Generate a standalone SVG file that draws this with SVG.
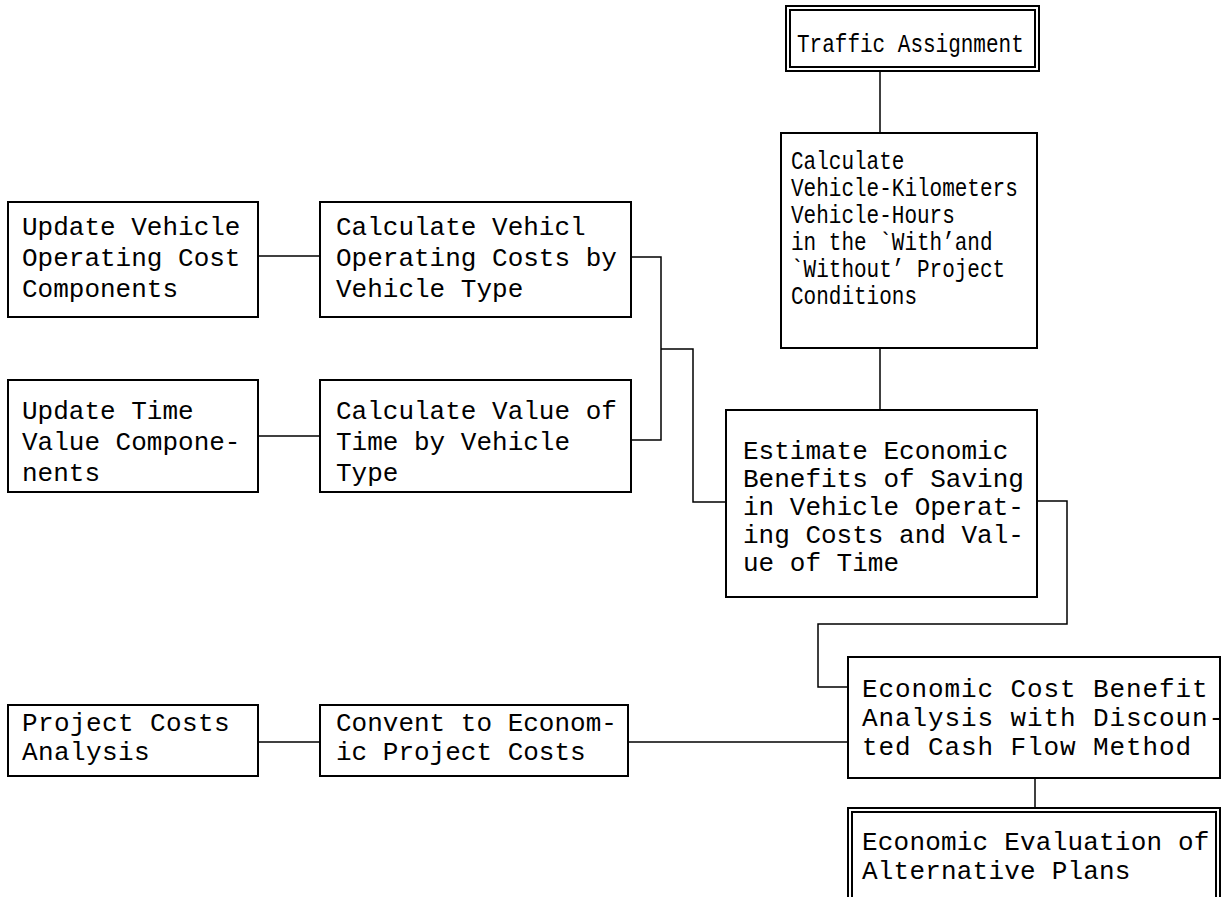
<svg xmlns="http://www.w3.org/2000/svg" width="1223" height="897" viewBox="0 0 1223 897">
<style>
.box{fill:#fff;stroke:#000;stroke-width:2}
.t{font-family:"Liberation Mono","DejaVu Sans Mono",monospace;font-size:26px;fill:#000;letter-spacing:0px}
.s{font-size:21px;letter-spacing:0px}
.c{fill:none;stroke:#000;stroke-width:1.5}
</style>
<rect width="1223" height="897" fill="#fff"/>
<g id="connectors">
<path class="c" d="M880 71V133"/>
<path class="c" d="M880 348V410"/>
<path class="c" d="M258 256H320"/>
<path class="c" d="M258 436H320"/>
<path class="c" d="M631 257H661V440H631"/>
<path class="c" d="M661 349H693V502H726"/>
<path class="c" d="M1037 501H1067V624H818V687H848"/>
<path class="c" d="M258 742H320"/>
<path class="c" d="M628 742H848"/>
<path class="c" d="M1035 778V808"/>
</g>
<g id="traffic">
<rect class="box" x="786" y="6" width="253" height="65"/>
<rect class="box" x="790" y="10" width="245" height="57" stroke-width="1.2"/>
<text class="t s" transform="translate(797,52) scale(1,1.2)" x="0" y="0">Traffic Assignment</text>
</g>
<g id="vkm">
<rect class="box" x="781" y="133" width="256" height="215"/>
<text class="t s" transform="translate(791,169) scale(1,1.2)" x="0" y="0"><tspan x="0">Calculate</tspan><tspan x="0" dy="22.5">Vehicle-Kilometers</tspan><tspan x="0" dy="22.5">Vehicle-Hours</tspan><tspan x="0" dy="22.5">in the `With’and</tspan><tspan x="0" dy="22.5">`Without’ Project</tspan><tspan x="0" dy="22.5">Conditions</tspan></text>
</g>
<g id="estimate">
<rect class="box" x="726" y="410" width="311" height="187"/>
<text class="t" x="743" y="459"><tspan x="743">Estimate Economic</tspan><tspan x="743" dy="28">Benefits of Saving</tspan><tspan x="743" dy="28">in Vehicle Operat-</tspan><tspan x="743" dy="28">ing Costs and Val-</tspan><tspan x="743" dy="28">ue of Time</tspan></text>
</g>
<g id="update-voc">
<rect class="box" x="8" y="202" width="250" height="115"/>
<text class="t" x="22" y="235"><tspan x="22">Update Vehicle</tspan><tspan x="22" dy="31">Operating Cost</tspan><tspan x="22" dy="31">Components</tspan></text>
</g>
<g id="calc-voc">
<rect class="box" x="320" y="202" width="311" height="115"/>
<text class="t" x="336" y="235"><tspan x="336">Calculate Vehicl</tspan><tspan x="336" dy="31">Operating Costs by</tspan><tspan x="336" dy="31">Vehicle Type</tspan></text>
</g>
<g id="update-time">
<rect class="box" x="8" y="380" width="250" height="112"/>
<text class="t" x="22" y="419"><tspan x="22">Update Time</tspan><tspan x="22" dy="31">Value Compone-</tspan><tspan x="22" dy="31">nents</tspan></text>
</g>
<g id="calc-time">
<rect class="box" x="320" y="380" width="311" height="112"/>
<text class="t" x="336" y="419"><tspan x="336">Calculate Value of</tspan><tspan x="336" dy="31">Time by Vehicle</tspan><tspan x="336" dy="31">Type</tspan></text>
</g>
<g id="project-costs">
<rect class="box" x="8" y="705" width="250" height="71"/>
<text class="t" x="22" y="731" style="letter-spacing:0.4px"><tspan x="22">Project Costs</tspan><tspan x="22" dy="29">Analysis</tspan></text>
</g>
<g id="convent">
<rect class="box" x="320" y="705" width="308" height="71"/>
<text class="t" x="336" y="731"><tspan x="336">Convent to Econom-</tspan><tspan x="336" dy="29">ic Project Costs</tspan></text>
</g>
<g id="cba">
<rect class="box" x="848" y="657" width="372" height="121"/>
<text class="t" x="862" y="697" style="letter-spacing:0.9px"><tspan x="862">Economic Cost Benefit</tspan><tspan x="862" dy="29">Analysis with Discoun-</tspan><tspan x="862" dy="29">ted Cash Flow Method</tspan></text>
</g>
<g id="evaluation">
<rect class="box" x="848" y="808" width="372" height="100"/>
<rect class="box" x="852" y="812" width="364" height="100" stroke-width="1.2"/>
<text class="t" x="862" y="850" style="letter-spacing:0.2px"><tspan x="862">Economic Evaluation of</tspan><tspan x="862" dy="29">Alternative Plans</tspan></text>
</g>
</svg>
